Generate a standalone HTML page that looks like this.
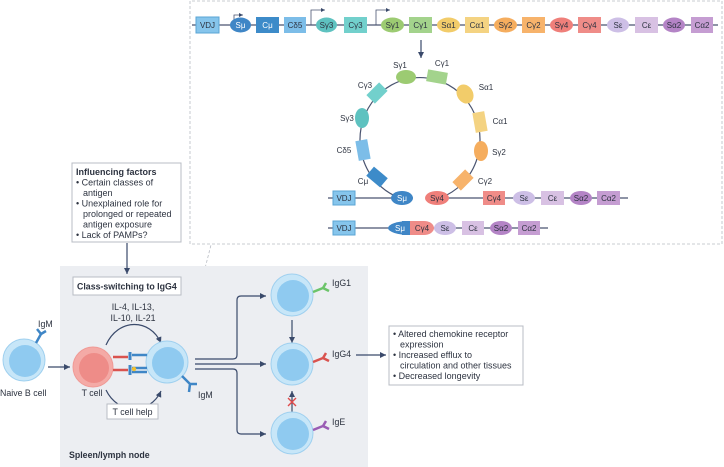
<!DOCTYPE html>
<html><head><meta charset="utf-8"><style>
html,body{margin:0;padding:0;background:#fff;}
svg{display:block;font-family:"Liberation Sans",sans-serif;}
</style></head><body>
<svg width="724" height="467" viewBox="0 0 724 467" xmlns="http://www.w3.org/2000/svg">
<defs>
<marker id="ah" markerWidth="6" markerHeight="6" refX="5" refY="3" orient="auto"><path d="M0,0.5 L5,3 L0,5.5 z" fill="#3a4a6b"/></marker>
<g id="bc"><circle r="21" fill="#c7e6f8" stroke="#9fd0ef" stroke-width="1"/><circle cx="1" cy="1" r="16" fill="#8fcaf0"/></g>
</defs>
<path d="M190,244 V1 H722 V244 Z" fill="none" stroke="#b8bcc4" stroke-dasharray="3,2" stroke-width="0.8"/>
<line x1="184" y1="350" x2="211" y2="245" stroke="#b8bcc4" stroke-dasharray="3,2" stroke-width="0.8"/>
<rect x="60" y="266" width="308" height="201" fill="#eceef2"/>
<g font-size="8" fill="#2d3340" text-anchor="middle">
<line x1="192" y1="25" x2="718" y2="25" stroke="#4a5470" stroke-width="1.2"/>
<path d="M234,25 V15 H243" fill="none" stroke="#4a5470" stroke-width="0.8" marker-end="url(#ah)"/>
<path d="M311,25 V10 H325" fill="none" stroke="#4a5470" stroke-width="0.8" marker-end="url(#ah)"/>
<path d="M376,25 V10 H390" fill="none" stroke="#4a5470" stroke-width="0.8" marker-end="url(#ah)"/>
<rect x="196" y="17" width="23" height="16" fill="#86c5ec" stroke="#5aa5d5"/><text x="207.5" y="28">VDJ</text>
<ellipse cx="240.5" cy="25" rx="10.5" ry="7.5" fill="#3f86c6"/><text x="240.5" y="28" fill="#fff">Sμ</text>
<rect x="256" y="17" width="23" height="16" fill="#3d8bc9"/><text x="267.5" y="28" fill="#fff">Cμ</text>
<rect x="284" y="17" width="22" height="16" fill="#7cbde8"/><text x="295" y="28">Cδ5</text>
<ellipse cx="326.5" cy="25" rx="10.5" ry="7.5" fill="#5ec2c0"/><text x="326.5" y="28">Sγ3</text>
<rect x="344" y="17" width="23" height="16" fill="#72d0cc"/><text x="355.5" y="28">Cγ3</text>
<ellipse cx="392.5" cy="25" rx="11.5" ry="7.5" fill="#9ccb72"/><text x="392.5" y="28">Sγ1</text>
<rect x="409" y="17" width="23" height="16" fill="#a3d38c"/><text x="420.5" y="28">Cγ1</text>
<ellipse cx="448.5" cy="25" rx="11.5" ry="7.5" fill="#f2cc6a"/><text x="448.5" y="28">Sα1</text>
<rect x="465" y="17" width="24" height="16" fill="#f4d382"/><text x="477" y="28">Cα1</text>
<ellipse cx="505.5" cy="25" rx="11.5" ry="7.5" fill="#f5ad5e"/><text x="505.5" y="28">Sγ2</text>
<rect x="522" y="17" width="23" height="16" fill="#f7b36b"/><text x="533.5" y="28">Cγ2</text>
<ellipse cx="561.5" cy="25" rx="11.5" ry="7.5" fill="#ef7f7a"/><text x="561.5" y="28">Sγ4</text>
<rect x="578" y="17" width="23" height="16" fill="#ef8c88"/><text x="589.5" y="28">Cγ4</text>
<ellipse cx="618" cy="25" rx="11" ry="7.5" fill="#cdbfe6"/><text x="618" y="28">Sε</text>
<rect x="635" y="17" width="23" height="16" fill="#d8c1e3"/><text x="646.5" y="28">Cε</text>
<ellipse cx="674" cy="25" rx="11" ry="7.5" fill="#b484c6"/><text x="674" y="28">Sα2</text>
<rect x="691" y="17" width="22" height="16" fill="#c59dd2"/><text x="702" y="28">Cα2</text>
</g>
<line x1="421" y1="40" x2="421" y2="58" stroke="#3a4a6b" stroke-width="1.2" marker-end="url(#ah)"/>
<g font-size="8" fill="#2d3340" text-anchor="middle">
<path d="M400,198 A60,62 0 1 1 440,198" fill="none" stroke="#4a5470" stroke-width="1.2"/>
<ellipse cx="406" cy="77" rx="10" ry="7" fill="#9ccb72"/><text x="400" y="68">Sγ1</text>
<rect x="427" y="71" width="20" height="12" fill="#a3d38c" transform="rotate(10 437 77)"/><text x="442" y="66">Cγ1</text>
<ellipse cx="465" cy="94" rx="8" ry="10" transform="rotate(-30 465 94)" fill="#f2cc6a"/><text x="486" y="90">Sα1</text>
<rect x="474" y="112" width="12" height="20" fill="#f4d382" transform="rotate(-10 480 122)"/><text x="500" y="124">Cα1</text>
<ellipse cx="481" cy="151" rx="7" ry="10" fill="#f5ad5e"/><text x="499" y="155">Sγ2</text>
<rect x="454" y="174" width="18" height="12" fill="#f7b36b" transform="rotate(-45 463 180)"/><text x="485" y="184">Cγ2</text>
<rect x="368" y="87" width="18" height="12" fill="#72d0cc" transform="rotate(-45 377 93)"/><text x="365" y="88">Cγ3</text>
<ellipse cx="362" cy="118" rx="7" ry="10" fill="#5ec2c0"/><text x="347" y="121">Sγ3</text>
<rect x="357" y="140" width="12" height="20" fill="#7cbde8" transform="rotate(-10 363 150)"/><text x="344" y="153">Cδ5</text>
<rect x="368" y="171" width="18" height="12" fill="#3d8bc9" transform="rotate(40 377 177)"/><text x="363" y="184">Cμ</text>
<line x1="328" y1="198" x2="413" y2="198" stroke="#4a5470" stroke-width="1.2"/>
<line x1="428" y1="198" x2="628" y2="198" stroke="#4a5470" stroke-width="1.2"/>
<rect x="333" y="191" width="22" height="14" fill="#86c5ec" stroke="#5aa5d5"/><text x="344" y="201">VDJ</text>
<ellipse cx="402" cy="198" rx="11" ry="7" fill="#3f86c6"/><text x="402" y="201" fill="#fff">Sμ</text>
<ellipse cx="437" cy="198" rx="12" ry="7" fill="#ef7f7a"/><text x="437" y="201">Sγ4</text>
<rect x="483" y="191" width="22" height="14" fill="#ef8c88"/><text x="494" y="201">Cγ4</text>
<ellipse cx="524" cy="198" rx="11" ry="7" fill="#cdbfe6"/><text x="524" y="201">Sε</text>
<rect x="541" y="191" width="23" height="14" fill="#d8c1e3"/><text x="552.5" y="201">Cε</text>
<ellipse cx="581" cy="198" rx="11" ry="7" fill="#b484c6"/><text x="581" y="201">Sα2</text>
<rect x="597" y="191" width="23" height="14" fill="#c59dd2"/><text x="608.5" y="201">Cα2</text>
<line x1="328" y1="228" x2="548" y2="228" stroke="#4a5470" stroke-width="1.2"/>
<rect x="333" y="221" width="22" height="14" fill="#86c5ec" stroke="#5aa5d5"/><text x="344" y="231">VDJ</text>
<path d="M410,221 A22,7 0 0 0 410,235 Z" fill="#3f86c6"/><rect x="402" y="221" width="10" height="14" fill="#3f86c6"/>
<rect x="410" y="221" width="14" height="14" fill="#ef8c88"/><path d="M424,221 A10,7 0 0 1 424,235 Z" fill="#ef8c88"/>
<text x="400" y="231" fill="#fff">Sμ</text><text x="422" y="231">Cγ4</text>
<ellipse cx="445" cy="228" rx="11" ry="7" fill="#cdbfe6"/><text x="445" y="231">Sε</text>
<rect x="462" y="221" width="22" height="14" fill="#d8c1e3"/><text x="473" y="231">Cε</text>
<ellipse cx="501" cy="228" rx="11" ry="7" fill="#b484c6"/><text x="501" y="231">Sα2</text>
<rect x="518" y="221" width="22" height="14" fill="#c59dd2"/><text x="529" y="231">Cα2</text>
</g>
<rect x="72" y="163" width="109" height="79" fill="#fff" stroke="#b8bcc4"/>
<g font-size="9" fill="#2d3340">
<text x="76" y="175" font-weight="bold">Influencing factors</text>
<text x="76" y="185.5">• Certain classes of</text>
<text x="83" y="196">antigen</text>
<text x="76" y="206.5">• Unexplained role for</text>
<text x="83" y="217">prolonged or repeated</text>
<text x="83" y="227.5">antigen exposure</text>
<text x="76" y="238">• Lack of PAMPs?</text>
</g>
<line x1="127" y1="243" x2="127" y2="274" stroke="#3a4a6b" stroke-width="1.2" marker-end="url(#ah)"/>
<rect x="73" y="277" width="108" height="18" fill="#fff" stroke="#b8bcc4"/>
<text x="77" y="289.5" font-size="8.8" font-weight="bold" fill="#2d3340">Class-switching to IgG4</text>
<text x="133" y="310" font-size="8.8" fill="#2d3340" text-anchor="middle">IL-4, IL-13,</text>
<text x="133" y="321" font-size="8.8" fill="#2d3340" text-anchor="middle">IL-10, IL-21</text>
<path d="M106,345 C118,318 150,318 161,343" fill="none" stroke="#3a4a6b" stroke-width="1.2" marker-end="url(#ah)"/>
<path d="M106,390 C118,415 150,415 161,391" fill="none" stroke="#3a4a6b" stroke-width="1.2" marker-end="url(#ah)"/>
<rect x="107" y="404" width="51" height="15" fill="#fff" stroke="#b8bcc4"/>
<text x="132.5" y="415" font-size="8.8" fill="#2d3340" text-anchor="middle">T cell help</text>
<use href="#bc" x="24" y="360"/>
<g stroke="#3f86c6" stroke-width="2.5" fill="none"><path d="M36,343 L41,334 M41,334 L37,329 M41,334 L46,331"/></g>
<text x="38" y="327" font-size="8.8" fill="#2d3340">IgM</text>
<text x="0" y="396" font-size="8.8" fill="#2d3340">Naive B cell</text>
<line x1="48" y1="367" x2="70" y2="367" stroke="#3a4a6b" stroke-width="1.2" marker-end="url(#ah)"/>
<circle cx="93" cy="367" r="20" fill="#f4aaa6" stroke="#f09a96"/><circle cx="94" cy="368" r="15" fill="#ee8c88"/>
<text x="92" y="396" font-size="8.8" fill="#2d3340" text-anchor="middle">T cell</text>
<use href="#bc" x="167" y="362"/>
<g stroke-width="2.5" fill="none">
<path d="M113,357 H128 M113,370 H128" stroke="#d9534f"/>
<path d="M132,355 H147 M132,368 H147 M132,372 H147" stroke="#3f86c6"/>
<path d="M130,352 V360 M130,365 V375" stroke="#3f86c6" stroke-width="3"/>
</g>
<circle cx="134" cy="369" r="2.2" fill="#f0c030"/>
<g stroke="#3f86c6" stroke-width="2.5" fill="none"><path d="M182,376 L190,384 M190,384 L189,392 M190,384 L197,384"/></g>
<text x="198" y="398" font-size="8.8" fill="#2d3340">IgM</text>
<g stroke="#3a4a6b" stroke-width="1.2" fill="none">
<path d="M195,359 H233 Q237,359 237,355 V300 Q237,296 241,296 H266" marker-end="url(#ah)"/>
<path d="M195,364 H266" marker-end="url(#ah)"/>
<path d="M195,369 H233 Q237,369 237,373 V430 Q237,434 241,434 H266" marker-end="url(#ah)"/>
<line x1="292" y1="320" x2="292" y2="343" marker-end="url(#ah)"/>
<line x1="292" y1="412" x2="292" y2="391" marker-end="url(#ah)"/>
<line x1="356" y1="355" x2="386" y2="355" marker-end="url(#ah)"/>
</g>
<path d="M288,398 L296,406 M296,398 L288,406" stroke="#e04a4a" stroke-width="1.4"/>
<use href="#bc" x="292" y="295"/>
<use href="#bc" x="292" y="364"/>
<use href="#bc" x="292" y="433"/>
<g stroke-width="2.5" fill="none">
<path d="M313,292 L323,288 M323,288 L326,283 M323,288 L329,291" stroke="#6cc46a"/>
<path d="M313,362 L323,358 M323,358 L326,353 M323,358 L329,361" stroke="#d9534f"/>
<path d="M313,430 L323,426 M323,426 L326,421 M323,426 L329,429" stroke="#9a5cb4"/>
</g>
<g font-size="8.8" fill="#2d3340">
<text x="332" y="286">IgG1</text>
<text x="332" y="357">IgG4</text>
<text x="332" y="425">IgE</text>
<text x="69" y="458" font-weight="bold">Spleen/lymph node</text>
</g>
<rect x="389" y="326" width="134" height="59" fill="#fff" stroke="#b8bcc4"/>
<g font-size="9" fill="#2d3340">
<text x="393" y="337">• Altered chemokine receptor</text>
<text x="400" y="347.5">expression</text>
<text x="393" y="358">• Increased efflux to</text>
<text x="400" y="368.5">circulation and other tissues</text>
<text x="393" y="379">• Decreased longevity</text>
</g>
</svg>
</body></html>
